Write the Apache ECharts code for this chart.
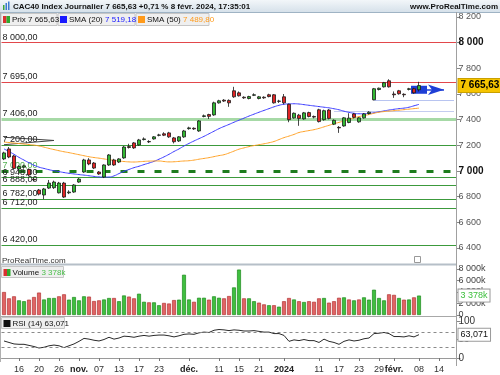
<!DOCTYPE html>
<html><head><meta charset="utf-8">
<script src="https://cdn.jsdelivr.net/npm/echarts@6/dist/echarts.min.js"></script>
<style>html,body{margin:0;padding:0;background:#fff}#c{width:500px;height:375px}</style>
</head><body><div id="c"></div>
<script>
// ---- categories (trading days) ----
const octDays = [11,12,13,16,17,18,19,20,23,24,25,26,27,30,31];
const novDays = [1,2,3,6,7,8,9,10,13,14,15,16,17,20,21,22,23,24,27,28,29,30];
const decDays = [1,4,5,6,7,8,11,12,13,14,15,18,19,20,21,22,27,28,29];
const janDays = [2,3,4,5,8,9,10,11,12,15,16,17,18,19,22,23,24,25,26,29,30,31];
const febDays = [1,2,5,6,7,8,9,12,13,14,15,16,19];

// ---- x tick labels ----
const tickDates = ['2023-10-16','2023-10-20','2023-10-26','2023-11-01','2023-11-07','2023-11-13','2023-11-17','2023-11-23','2023-12-01','2023-12-11','2023-12-15','2023-12-21','2024-01-02','2024-01-11','2024-01-17','2024-01-23','2024-01-29','2024-02-01','2024-02-08','2024-02-14'];
const tickText  = ['16','20','26','nov.','07','13','17','23','déc.','11','15','21','2024','11','17','23','29','févr.','08','14'];
const boldTicks = ['nov.','déc.','2024','févr.'];

// ---- OHLC ----
const openP  = [7094,7172,7117,7015,7030,7013,6935,6852,6813,6867,6870,6830,6906,6830,6836,6914,6992,7086,7062,6992,6953,7047,7086,7070,7102,7190,7219,7203,7245,7230,7250,7278,7290,7297,7258,7234,7266,7330,7333,7312,7425,7440,7437,7531,7552,7550,7625,7609,7575,7565,7590,7565,7575,7594,7594,7545,7578,7520,7414,7435,7406,7455,7425,7477,7400,7475,7365,7340,7351,7378,7445,7383,7414,7448,7555,7635,7656,7703,7600,7625,7598,7636,7641,7633];
const closeP = [7141,7109,7020,7035,7040,6969,6930,6820,6860,6906,6914,6906,6797,6836,6891,6937,7086,7055,7023,6977,7047,7125,7047,7094,7187,7183,7180,7242,7250,7227,7266,7281,7279,7266,7228,7266,7312,7336,7328,7390,7430,7426,7531,7547,7545,7531,7578,7586,7570,7580,7594,7578,7570,7580,7531,7543,7531,7400,7450,7410,7453,7425,7420,7385,7470,7410,7395,7336,7414,7412,7418,7414,7445,7458,7641,7645,7688,7656,7594,7602,7594,7641,7609,7665.63];
const lowP   = [7085,7100,7012,7005,7018,6960,6920,6810,6781,6860,6860,6825,6790,6820,6830,6908,6985,7045,7015,6970,6945,7040,7040,7062,7095,7175,7172,7196,7238,7218,7244,7270,7272,7258,7215,7226,7258,7322,7320,7305,7418,7405,7430,7525,7538,7500,7570,7580,7562,7558,7584,7558,7562,7574,7525,7530,7520,7380,7408,7352,7400,7418,7410,7378,7392,7402,7358,7297,7345,7372,7410,7376,7408,7440,7550,7628,7650,7650,7570,7595,7575,7628,7602,7620];
const highP  = [7150,7187,7125,7045,7050,7020,6945,6860,6868,6930,6925,6915,6915,6850,6898,6945,7095,7100,7070,7000,7052,7132,7095,7100,7195,7212,7226,7250,7262,7240,7272,7290,7302,7305,7265,7272,7320,7345,7340,7396,7440,7446,7540,7555,7560,7558,7656,7620,7582,7586,7605,7585,7582,7602,7600,7555,7600,7525,7456,7445,7460,7462,7432,7485,7478,7482,7402,7350,7420,7450,7452,7420,7452,7466,7647,7650,7694,7715,7620,7632,7605,7648,7648,7695];
const priorClose = 7160;

// ---- moving averages ----
const sma20 = [7172,7152,7130,7106,7085,7064,7045,7030,7020,7010,7002,6995,6988,6982,6977,6972,6968,6963,6958,6954,6953,6953,6962,6980,6998,7012,7026,7037,7050,7062,7075,7092,7110,7130,7152,7172,7195,7215,7234,7252,7270,7290,7310,7330,7347,7363,7380,7396,7412,7428,7443,7458,7472,7486,7500,7512,7520,7523,7524,7522,7517,7512,7507,7502,7497,7492,7485,7477,7466,7457,7450,7446,7446,7449,7454,7461,7468,7475,7481,7486,7490,7497,7508,7519.18];
const sma50 = [7225,7222,7218,7214,7210,7206,7202,7195,7186,7176,7167,7158,7150,7143,7135,7127,7119,7111,7105,7100,7094,7088,7083,7078,7074,7071,7070,7072,7075,7077,7078,7078,7074,7071,7072,7075,7078,7080,7085,7092,7098,7104,7112,7120,7127,7140,7155,7170,7180,7190,7198,7205,7212,7220,7230,7245,7260,7272,7285,7300,7308,7315,7322,7332,7344,7356,7368,7379,7390,7402,7414,7424,7432,7440,7450,7458,7463,7467,7470,7474,7478,7482,7486,7489.80];

// ---- volume (thousands) ----
const volume = [4000,2900,3250,2550,2400,2670,3130,3900,2700,2960,2960,3250,3600,2670,3130,2550,3250,3200,2430,2550,2700,2960,2960,2400,3400,3200,2900,3700,2300,2200,2200,1700,2100,2000,2600,2670,7000,2700,2300,3000,3000,2670,3250,3000,2900,3300,4800,7900,2900,2900,2400,2150,1850,1700,1700,1450,2400,2960,2700,2400,2260,2400,2300,2900,2960,2150,2400,3000,3070,2700,2550,2700,3070,2670,4400,2960,2550,3600,3500,2960,2670,2700,3070,3378];

// ---- RSI (14) ----
const rsi = [46,42,38,37,37,34,31,27,29,33,35,33,28,33,38,45,53,51,48,46,50,56,51,54,59,58,56,59,61,59,61,62,62,60,57,60,64,65,64,68,70,69,75,77,76,74,76,75,73,73,74,72,70,70,66,66,61,45,49,47,50,47,47,42,51,45,42,37,45,49,46,48,52,54,66,67,69,66,58,58,57,60,57,63.071];
const rsiBands = [70, 30];

// ---- horizontal levels ----
const resistLevels = [8000, 7695];
const zoneLevels = [7406];
const pivotLevels = [7000];
const supportLevels = [7200, 6948, 6888, 6782, 6712, 6420];
const gapLevels = [7555, 7463];
const wedgeA = [7263, 7238];
const wedgeB = [7205, 7238];
const arrowLevel = 7633;

// ---------------------------------------------------------
const pad = d => (d < 10 ? '0' : '') + d;
const dates = [].concat(
  octDays.map(d => '2023-10-' + pad(d)), novDays.map(d => '2023-11-' + pad(d)),
  decDays.map(d => '2023-12-' + pad(d)), janDays.map(d => '2024-01-' + pad(d)),
  febDays.map(d => '2024-02-' + pad(d)));
const N = closeP.length;
function fr(v, dec) {
  const s = v.toFixed(dec); const p = s.split('.');
  const int = p[0].replace(/\B(?=(\d{3})+(?!\d))/g, ' ');
  return p.length > 1 ? int + ',' + p[1] : int;
}
const FONT = "'Liberation Sans',sans-serif";
const FONTA = "'Liberation Sans',sans-serif";
const RED = '#e2474b';
const CLEAR = 'rgba(0,0,0,0)';

const ohlc = openP.map((o, i) => [o, closeP[i], lowP[i], highP[i]]);
const volData = volume.map((v, i) => {
  const up = closeP[i] >= (i === 0 ? priorClose : closeP[i - 1]);
  return { value: v, itemStyle: { color: up ? '#3fbf3f' : '#e06464', borderColor: up ? '#1d8a1d' : '#b33535', borderWidth: 0.7 } };
});

function lvl(v, color, width, type, labelColor) {
  return { yAxis: v, lineStyle: { color: color, width: width, type: type },
    label: { show: true, position: 'insideStartTop', formatter: fr(v, 2), color: labelColor || '#222', fontSize: 9, fontFamily: FONTA, distance: [1, 1] } };
}
const levelLines = [].concat(
  resistLevels.map(v => lvl(v, RED, 1, 'solid')),
  zoneLevels.map(v => lvl(v, '#a6d9a6', 3, 'solid')),
  supportLevels.map(v => lvl(v, '#3c9a3c', 1, 'solid')),
  pivotLevels.map(v => lvl(v, '#1e7d1e', 3, [7, 10], '#55b055'))
);
const segs = [
  [{ coord: [dates[74], gapLevels[0]], lineStyle: { color: '#b8c4f0', width: 1, type: 'solid' } }, { coord: [dates[90], gapLevels[0]] }],
  [{ coord: [dates[66], gapLevels[1]], lineStyle: { color: '#c4ccf0', width: 1, type: 'solid' } }, { coord: [dates[90], gapLevels[1]] }],
  [{ coord: [dates[0], wedgeA[0]], lineStyle: { color: '#444', width: 1, type: 'solid' } }, { coord: [dates[10], wedgeA[1]] }],
  [{ coord: [dates[0], wedgeB[0]], lineStyle: { color: '#444', width: 1, type: 'solid' } }, { coord: [dates[10], wedgeB[1]] }],
  [{ coord: [dates[N - 1], arrowLevel], symbol: ['none', 'arrow'], lineStyle: { color: '#1f3fd6', width: 1.5, type: 'solid' } }, { coord: [dates[N + 4], arrowLevel], symbol: 'arrow' }]
];
const lastClose = closeP[N - 1];

function tag(value, text, color, bg, border, bold, size) {
  return { yAxis: value, lineStyle: { color: CLEAR, width: 0 },
    label: { show: true, position: 'end', formatter: text, backgroundColor: bg, borderColor: border, borderWidth: 1,
      color: color, fontWeight: bold ? 'bold' : 'normal', fontSize: size, fontFamily: FONTA, padding: [2, 2, 1, 2], distance: 2 } };
}

const tickSet = {};
tickDates.forEach((d, k) => tickSet[d] = tickText[k]);
const isTick = (idx, val) => tickSet[val] !== undefined;

const GL = 1.5, GW = 455;
const opt = {
  animation: false,
  grid: [
    { left: GL, width: GW, top: 17, height: 231 },
    { left: GL, width: GW, top: 269, height: 46 },
    { left: GL, width: GW, top: 321, height: 37 }
  ],
  xAxis: [0, 1, 2].map(gi => ({
    type: 'category', gridIndex: gi, data: dates, boundaryGap: true,
    show: gi === 2, offset: gi === 2 ? 4 : 0,
    axisLine: { show: gi === 2, lineStyle: { color: '#9a9a9a' } },
    axisTick: { show: gi === 2, interval: isTick, alignWithLabel: true, length: 3, lineStyle: { color: '#777' } },
    axisLabel: { show: gi === 2, interval: isTick, margin: 3, fontSize: 9, fontFamily: FONTA, color: '#333',
      formatter: v => { const t = tickSet[v]; return boldTicks.includes(t) ? '{b|' + t + '}' : t; },
      rich: { b: { fontWeight: 'bold', fontSize: 9, fontFamily: FONTA, color: '#222' } } },
    splitLine: { show: false }
  })),
  yAxis: [
    { gridIndex: 0, position: 'right', min: 6400, max: 8200, interval: 200,
      axisLine: { show: false }, axisTick: { show: true, length: 4, lineStyle: { color: '#888' } }, splitLine: { show: false },
      axisLabel: { margin: 2, fontSize: 9, fontFamily: FONTA, color: '#555',
        formatter: v => (v === 8000 || v === 7000) ? '{b|' + fr(v, 0) + '}' : fr(v, 0),
        rich: { b: { fontWeight: 'bold', fontSize: 10, color: '#111', fontFamily: FONTA } } } },
    { gridIndex: 1, position: 'right', min: 0, max: 8000, interval: 2000,
      axisLine: { show: false }, axisTick: { show: true, length: 4, lineStyle: { color: '#888' } }, splitLine: { show: false },
      axisLabel: { margin: 2, fontSize: 9, fontFamily: FONTA, color: '#444', formatter: v => v === 0 ? '0' : fr(v, 0) + 'k' } },
    { gridIndex: 2, position: 'right', min: 0, max: 100, interval: 50,
      axisLine: { show: false }, axisTick: { show: true, length: 4, lineStyle: { color: '#888' } }, splitLine: { show: false },
      axisLabel: { margin: 2, fontSize: 10, fontFamily: FONTA, color: '#333' } }
  ],
  series: [
    { type: 'candlestick', xAxisIndex: 0, yAxisIndex: 0, data: ohlc, barWidth: '72%', z: 5,
      itemStyle: { color: '#33b833', color0: '#e02424', borderColor: '#1b1b1b', borderColor0: '#1b1b1b', borderWidth: 0.8 },
      markLine: { silent: true, symbol: 'none', animation: false, z: 1, data: levelLines.concat(segs) } },
    { type: 'line', xAxisIndex: 0, yAxisIndex: 0, data: sma20, showSymbol: false, smooth: true, z: 4,
      lineStyle: { color: '#3a3aff', width: 1 } },
    { type: 'line', xAxisIndex: 0, yAxisIndex: 0, data: sma50, showSymbol: false, smooth: true, z: 4,
      lineStyle: { color: '#ffa228', width: 1 } },
    { type: 'bar', xAxisIndex: 1, yAxisIndex: 1, data: volData, barWidth: '78%' },
    { type: 'line', xAxisIndex: 2, yAxisIndex: 2, data: rsi, showSymbol: false, lineStyle: { color: '#2a2a2a', width: 1 },
      markLine: { silent: true, symbol: 'none', data: rsiBands.map(v => ({ yAxis: v, lineStyle: { color: '#8a8a8a', type: [3, 3], width: 1 }, label: { show: false } })) } },
    // value tags on the right-hand scales
    { type: 'line', xAxisIndex: 0, yAxisIndex: 0, data: [], z: 20,
      markLine: { silent: true, symbol: 'none', z: 20, data: [tag(lastClose, fr(lastClose, 2), '#000', '#f6c400', '#c9a000', true, 10)] } },
    { type: 'line', xAxisIndex: 1, yAxisIndex: 1, data: [], z: 20,
      markLine: { silent: true, symbol: 'none', z: 20, data: [tag(volume[N - 1], fr(volume[N - 1], 0) + 'k', '#3cbf3c', '#fff', '#9a9a9a', false, 9)] } },
    { type: 'line', xAxisIndex: 2, yAxisIndex: 2, data: [], z: 20,
      markLine: { silent: true, symbol: 'none', z: 20, data: [tag(rsi[N - 1], fr(rsi[N - 1], 3), '#111', '#fff', '#9a9a9a', false, 9)] } }
  ],
  graphic: []
};

// ---- header / legends / frames ----
const g = [];
g.push({ type: 'rect', shape: { x: 0, y: 0, width: 500, height: 12 }, style: { fill: new echarts.graphic.LinearGradient(0, 0, 0, 1, [{ offset: 0, color: '#f2f6f9' }, { offset: 1, color: '#d6e1ea' }]) }, z: 100 });
g.push({ type: 'line', shape: { x1: 0, y1: 12.5, x2: 500, y2: 12.5 }, style: { stroke: '#9fb3c4', lineWidth: 1 }, z: 100 });
g.push({ type: 'rect', shape: { x: 3, y: 5, width: 1.5, height: 5 }, style: { fill: '#3aa53a' }, z: 101 });
g.push({ type: 'rect', shape: { x: 5.5, y: 3, width: 1.5, height: 7 }, style: { fill: '#3a7ad0' }, z: 101 });
g.push({ type: 'rect', shape: { x: 8, y: 1.5, width: 1.5, height: 8.5 }, style: { fill: '#3a7ad0' }, z: 101 });
g.push({ type: 'text', x: 13, y: 6.5, style: { text: 'CAC40 Index Journalier ' + fr(lastClose, 2) + ' +0,71 % 8 févr. 2024, 17:35:01', fill: '#111', font: 'bold 8px ' + FONT, verticalAlign: 'middle' }, z: 101 });
g.push({ type: 'text', x: 498, y: 6.5, style: { text: 'www.ProRealTime.com', fill: '#111', font: 'bold 8px ' + FONT, align: 'right', verticalAlign: 'middle' }, z: 101 });

function legendBox(x, w, y, h, squareColors, parts) {
  g.push({ type: 'rect', shape: { x: x, y: y, width: w, height: h }, style: { fill: '#efefef', stroke: '#c6c6c6', lineWidth: 1 }, z: 100 });
  if (squareColors.length === 2) {
    g.push({ type: 'rect', shape: { x: x + 2, y: y + 2.5, width: 3.5, height: 7 }, style: { fill: squareColors[0] }, z: 101 });
    g.push({ type: 'rect', shape: { x: x + 5.5, y: y + 2.5, width: 3.5, height: 7 }, style: { fill: squareColors[1] }, z: 101 });
  } else {
    g.push({ type: 'rect', shape: { x: x + 2, y: y + 2.5, width: 7, height: 7 }, style: { fill: squareColors[0] }, z: 101 });
  }
  g.push({ type: 'text', x: x + 11, y: y + h / 2 + 0.5, style: { text: parts.text, rich: parts.rich, fill: '#111', font: '8px ' + FONT, verticalAlign: 'middle' }, z: 101 });
}
const richV = c => ({ v: { fill: c, color: c, fontSize: 8, fontFamily: FONT } });
legendBox(1, 56, 13.5, 12, ['#d93030', '#2faa2f'], { text: 'Prix ' + fr(lastClose, 2) });
legendBox(58, 77, 13.5, 12, ['#1a1aff'], { text: 'SMA (20) {v|' + fr(sma20[N - 1], 2) + '}', rich: richV('#1a1aff') });
legendBox(136, 73, 13.5, 12, ['#ff9a1a'], { text: 'SMA (50) {v|' + fr(sma50[N - 1], 2) + '}', rich: richV('#ff9a1a') });
legendBox(1.5, 62, 266.5, 11, ['#d93030', '#2faa2f'], { text: 'Volume {v|' + fr(volume[N - 1], 0) + 'k}', rich: richV('#4cc04c') });
legendBox(1.5, 63, 317.5, 11, ['#111'], { text: 'RSI (14) ' + fr(rsi[N - 1], 3) });

g.push({ type: 'text', x: 2, y: 260.5, style: { text: 'ProRealTime.com', fill: '#333', font: '8px ' + FONT, verticalAlign: 'middle' }, z: 101 });
g.push({ type: 'rect', shape: { x: 414.5, y: 256.5, width: 6, height: 6 }, style: { fill: '#fff', stroke: '#999', lineWidth: 1 }, z: 101 });
g.push({ type: 'line', shape: { x1: 0, y1: 264.5, x2: 457, y2: 264.5 }, style: { stroke: '#b6bfc8', lineWidth: 2 }, z: 100 });
g.push({ type: 'line', shape: { x1: 0, y1: 316.5, x2: 457, y2: 316.5 }, style: { stroke: '#a8a8a8', lineWidth: 1 }, z: 100 });
g.push({ type: 'line', shape: { x1: 456.5, y1: 12, x2: 456.5, y2: 366 }, style: { stroke: '#a0a0a0', lineWidth: 1 }, z: 100 });
g.push({ type: 'line', shape: { x1: 0.5, y1: 12, x2: 0.5, y2: 362 }, style: { stroke: '#b0b0b0', lineWidth: 1 }, z: 100 });
opt.graphic = g;

const chart = echarts.init(document.getElementById('c'), null, { renderer: 'canvas' });
chart.setOption(opt);
</script></body></html>
